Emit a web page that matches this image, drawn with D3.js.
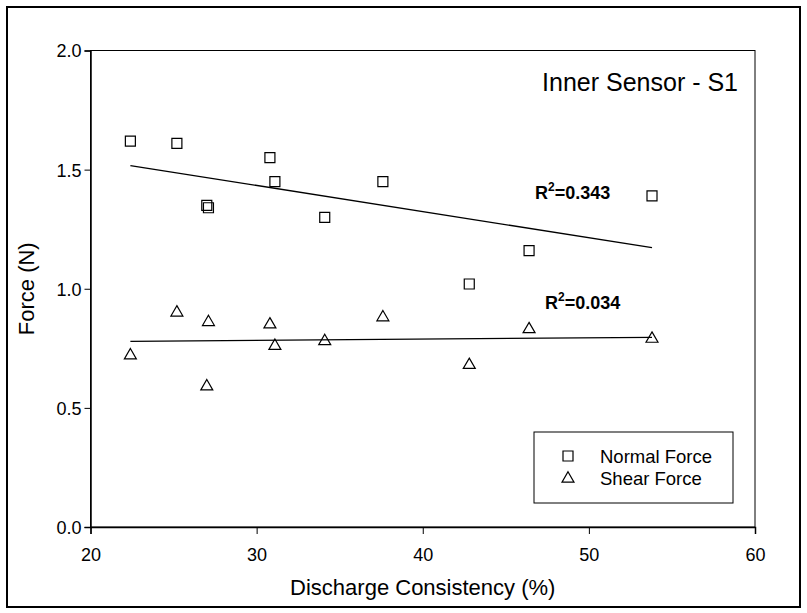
<!DOCTYPE html>
<html>
<head>
<meta charset="utf-8">
<script src="https://cdn.jsdelivr.net/npm/d3@7"></script>
<style>
    body { margin: 0; background: white; }
    svg { display: block; font-family: "Liberation Sans", Arial, sans-serif; }
</style>
</head>
<body>
<div id="chart"></div>
<script>
// discharge consistency (%) for each sample
const consistency = [22.4, 25.2, 27.0, 27.1, 30.8, 31.1, 34.1, 37.6, 42.8, 46.4, 53.8];
const normalForce = [1.62, 1.61, 1.35, 1.34, 1.55, 1.45, 1.30, 1.45, 1.02, 1.16, 1.39];
const shearForce  = [0.72, 0.90, 0.59, 0.86, 0.85, 0.76, 0.78, 0.88, 0.68, 0.83, 0.79];
const xTicks = [20, 30, 40, 50, 60];
const yTicks = [0.0, 0.5, 1.0, 1.5, 2.0];
const seriesNames = ["Normal Force", "Shear Force"];
const r2Labels = ["0.343", "0.034"];

const
    width = 807,
    height = 613,
    plotLeft = 90.5,
    plotRight = 755,
    plotTop = 50.5,
    plotBottom = 527;

const svg = d3.select("#chart")
    .append("svg")
    .attr("width", width)
    .attr("height", height)
    .attr("viewBox", [0, 0, width, height]);

svg.append("rect")
    .attr("x", 7).attr("y", 7)
    .attr("width", 793).attr("height", 600)
    .attr("fill", "white")
    .attr("stroke", "black")
    .attr("stroke-width", 2);

const x = d3.scaleLinear().domain([20, 60]).range([plotLeft, plotRight]);
const y = d3.scaleLinear().domain([0, 2]).range([plotBottom, plotTop]);

// plot frame
svg.append("rect")
    .attr("x", plotLeft).attr("y", plotTop)
    .attr("width", plotRight - plotLeft).attr("height", plotBottom - plotTop)
    .attr("fill", "none")
    .attr("stroke", "black")
    .attr("stroke-width", 1);

const xAxis = svg.append("g")
    .attr("transform", `translate(0,${plotBottom})`)
    .call(d3.axisBottom(x).tickValues(xTicks).tickSize(7).tickFormat(d3.format("d")));

const yAxis = svg.append("g")
    .attr("transform", `translate(${plotLeft},0)`)
    .call(d3.axisLeft(y).tickValues(yTicks).tickSize(6).tickPadding(3).tickFormat(d3.format(".1f")));

[xAxis, yAxis].forEach(g => {
    g.select(".domain").attr("stroke", "black").attr("stroke-width", 1.5);
    g.selectAll(".tick line").attr("stroke", "black");
    g.selectAll(".tick text")
        .attr("fill", "black")
        .style("font-family", "'Liberation Sans', Arial, sans-serif")
        .style("font-size", "18px");
});
yAxis.selectAll(".tick text").attr("dy", "0.36em");
xAxis.selectAll(".tick text").attr("y", 34).attr("dy", 0);

svg.append("text")
    .attr("x", (plotLeft + plotRight) / 2)
    .attr("y", 595)
    .attr("text-anchor", "middle")
    .style("font-size", "22px")
    .text("Discharge Consistency (%)");

svg.append("text")
    .attr("transform", `translate(34,${(plotTop + plotBottom) / 2}) rotate(-90)`)
    .attr("text-anchor", "middle")
    .style("font-size", "22px")
    .text("Force (N)");

svg.append("text")
    .attr("x", 738)
    .attr("y", 91)
    .attr("text-anchor", "end")
    .style("font-size", "25px")
    .text("Inner Sensor - S1");

// least squares fit line over the data range
function fit(xs, ys) {
    const mx = d3.mean(xs), my = d3.mean(ys);
    const sxy = d3.sum(xs, (v, i) => (v - mx) * (ys[i] - my));
    const sxx = d3.sum(xs, v => (v - mx) * (v - mx));
    const b = sxy / sxx, a = my - b * mx;
    const ext = d3.extent(xs);
    return ext.map(v => [v, a + b * v]);
}

const line = d3.line().x(d => x(d[0])).y(d => y(d[1]));

[normalForce, shearForce].forEach(ys => {
    svg.append("path")
        .attr("d", line(fit(consistency, ys)))
        .attr("fill", "none")
        .attr("stroke", "black")
        .attr("stroke-width", 1.3);
});

const square = d3.symbol().type(d3.symbolSquare).size(100);
const triangle = d3.symbol().type(d3.symbolTriangle).size(62);

function drawPoints(ys, sym) {
    svg.append("g")
        .selectAll("path")
        .data(consistency.map((v, i) => [v, ys[i]]))
        .join("path")
        .attr("transform", d => `translate(${x(d[0])},${y(d[1])})`)
        .attr("d", sym)
        .attr("fill", "none")
        .attr("stroke", "black")
        .attr("stroke-width", 1.2);
}
drawPoints(normalForce, square);
drawPoints(shearForce, triangle);

// R squared labels
const r2Pos = [[535, 199], [545, 309]];
r2Labels.forEach((r, i) => {
    const t = svg.append("text")
        .attr("x", r2Pos[i][0])
        .attr("y", r2Pos[i][1])
        .style("font-size", "18px")
        .style("font-weight", "bold");
    t.append("tspan").text("R");
    t.append("tspan").attr("dy", -8).style("font-size", "12px").text("2");
    t.append("tspan").attr("dy", 8).text("=" + r);
});

// legend
const legend = svg.append("g");
legend.append("rect")
    .attr("x", 534).attr("y", 432)
    .attr("width", 199).attr("height", 71)
    .attr("fill", "white")
    .attr("stroke", "black")
    .attr("stroke-width", 1);
[square, triangle].forEach((sym, i) => {
    const ly = 456 + i * 22.7;
    legend.append("path")
        .attr("transform", `translate(568,${ly})`)
        .attr("d", sym)
        .attr("fill", "none")
        .attr("stroke", "black")
        .attr("stroke-width", 1.2);
    legend.append("text")
        .attr("x", 600)
        .attr("y", ly)
        .attr("dy", "0.36em")
        .style("font-size", "18.5px")
        .text(seriesNames[i]);
});
</script>
</body>
</html>
